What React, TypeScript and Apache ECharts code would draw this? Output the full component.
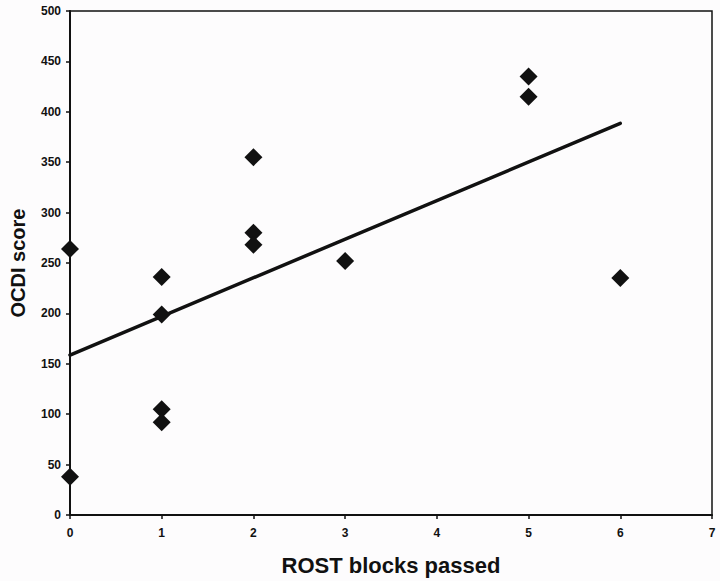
import React, { useEffect, useRef } from "react";
import * as echarts from "echarts";

const xValues = [0, 0, 1, 1, 1, 1, 2, 2, 2, 3, 5, 5, 6];
const yValues = [264, 38, 236, 199, 105, 92, 355, 280, 268, 252, 435, 415, 235];
const xTicks = [0, 1, 2, 3, 4, 5, 6, 7];
const yTicks = [0, 50, 100, 150, 200, 250, 300, 350, 400, 450, 500];
const xTitle = "ROST blocks passed";
const yTitle = "OCDI score";

function regression(xs: number[], ys: number[]) {
  const n = xs.length;
  const mx = xs.reduce((a, b) => a + b, 0) / n;
  const my = ys.reduce((a, b) => a + b, 0) / n;
  let sxy = 0;
  let sxx = 0;
  for (let i = 0; i < n; i++) {
    sxy += (xs[i] - mx) * (ys[i] - my);
    sxx += (xs[i] - mx) * (xs[i] - mx);
  }
  const slope = sxy / sxx;
  return { slope, intercept: my - slope * mx };
}

export default function App() {
  const ref = useRef<HTMLDivElement>(null);
  useEffect(() => {
    if (!ref.current) return;
    const chart = echarts.init(ref.current, undefined, { renderer: "svg" });
    const { slope, intercept } = regression(xValues, yValues);
    const xMin = Math.min(...xValues);
    const xMax = Math.max(...xValues);
    const font = "Liberation Sans, Arial, sans-serif";
    chart.setOption({
      animation: false,
      backgroundColor: "#fdfcfd",
      grid: {
        left: 69,
        right: 8,
        top: 11,
        bottom: 66,
        show: true,
        borderColor: "#111",
        borderWidth: 1.5,
        backgroundColor: "transparent",
      },
      xAxis: {
        type: "value",
        min: xTicks[0],
        max: xTicks[xTicks.length - 1],
        interval: 1,
        name: xTitle,
        nameLocation: "middle",
        nameGap: 39,
        nameTextStyle: { fontFamily: font, fontWeight: "bold", fontSize: 22, color: "#111" },
        axisLine: { show: true, lineStyle: { color: "#111", width: 2 } },
        axisTick: { show: true, inside: false, length: 4, lineStyle: { color: "#111", width: 1.5 } },
        axisLabel: { margin: 12, fontFamily: font, fontWeight: "bold", fontSize: 12, color: "#111" },
        splitLine: { show: false },
      },
      yAxis: {
        type: "value",
        min: yTicks[0],
        max: yTicks[yTicks.length - 1],
        interval: 50,
        name: yTitle,
        nameLocation: "middle",
        nameGap: 42,
        nameTextStyle: { fontFamily: font, fontWeight: "bold", fontSize: 20, color: "#111" },
        axisLine: { show: true, lineStyle: { color: "#111", width: 2 } },
        axisTick: { show: true, inside: false, length: 4, lineStyle: { color: "#111", width: 1.5 } },
        axisLabel: { margin: 9, fontFamily: font, fontWeight: "bold", fontSize: 12, color: "#111" },
        splitLine: { show: false },
      },
      series: [
        {
          type: "line",
          data: [
            [xMin, intercept + slope * xMin],
            [xMax, intercept + slope * xMax],
          ],
          showSymbol: false,
          symbol: "none",
          lineStyle: { color: "#111", width: 3.5, cap: "round" },
          silent: true,
          z: 2,
        },
        {
          type: "scatter",
          data: xValues.map((x, i) => [x, yValues[i]]),
          symbol: "diamond",
          symbolSize: 18,
          itemStyle: { color: "#111", opacity: 1 },
          z: 3,
        },
      ],
    });
    return () => chart.dispose();
  }, []);
  return (
    <div
      ref={ref}
      style={{ position: "fixed", left: 0, top: 0, width: 720, height: 581 }}
    />
  );
}
